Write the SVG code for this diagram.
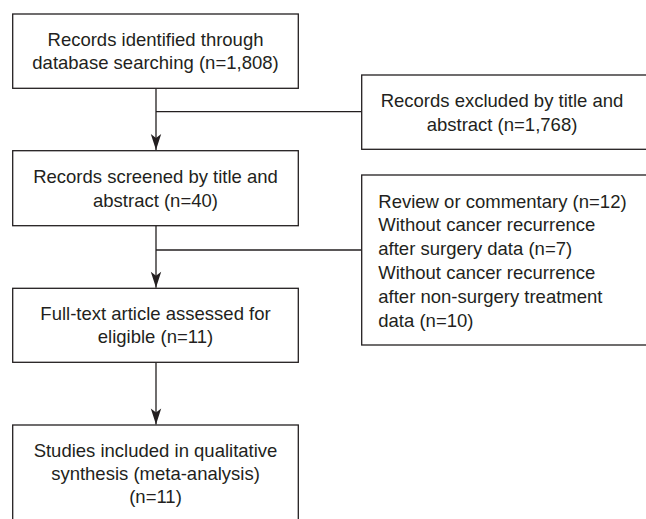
<svg xmlns="http://www.w3.org/2000/svg" width="646" height="519" viewBox="0 0 646 519">
<style>
.box{fill:#fff;stroke:#231f20;stroke-width:1.3}
.ln{fill:none;stroke:#231f20;stroke-width:1.3}
text{font-family:"Liberation Sans",Arial,sans-serif;font-size:18.5px;fill:#231f20}
.c{text-anchor:middle}
</style>
<defs>
<marker id="arr" markerUnits="userSpaceOnUse" markerWidth="20" markerHeight="20" refX="0" refY="0" orient="auto" overflow="visible">
<path d="M0,0 L-16,-5.2 L-12,0 L-16,5.2 Z" fill="#231f20"/>
</marker>
</defs>
<rect width="646" height="519" fill="#fff"/>
<g id="connectors">
<line class="ln" x1="156" y1="88.3" x2="156" y2="150" marker-end="url(#arr)"/>
<line class="ln" x1="156" y1="111.7" x2="361.7" y2="111.7"/>
<line class="ln" x1="156" y1="225.7" x2="156" y2="287.7" marker-end="url(#arr)"/>
<line class="ln" x1="156" y1="250" x2="361.7" y2="250"/>
<line class="ln" x1="156" y1="362.3" x2="156" y2="424.4" marker-end="url(#arr)"/>
</g>
<g id="n1">
<rect class="box" x="12.7" y="14" width="285.6" height="74.3"/>
<text class="c" x="155.5" y="46.3">Records identified through</text>
<text class="c" x="155.5" y="69">database searching (n=1,808)</text>
</g>
<g id="n2">
<rect class="box" x="361.7" y="75" width="290" height="74.3"/>
<text class="c" x="502" y="107">Records excluded by title and</text>
<text class="c" x="502" y="130.5">abstract (n=1,768)</text>
</g>
<g id="n3">
<rect class="box" x="12.7" y="150.7" width="285.6" height="75"/>
<text class="c" x="155.5" y="183.2">Records screened by title and</text>
<text class="c" x="155.5" y="206.5">abstract (n=40)</text>
</g>
<g id="n4">
<rect class="box" x="361.7" y="175" width="290" height="170"/>
<text x="378.3" y="207.5">Review or commentary (n=12)</text>
<text x="378.3" y="231.4">Without cancer recurrence</text>
<text x="378.3" y="255.3">after surgery data (n=7)</text>
<text x="378.3" y="279.2">Without cancer recurrence</text>
<text x="378.3" y="303.1">after non-surgery treatment</text>
<text x="378.3" y="327">data (n=10)</text>
</g>
<g id="n5">
<rect class="box" x="12.7" y="288.3" width="285.6" height="74"/>
<text class="c" x="155.5" y="319.5">Full-text article assessed for</text>
<text class="c" x="155.5" y="342.8">eligible (n=11)</text>
</g>
<g id="n6">
<rect class="box" x="12.7" y="425" width="285.6" height="110"/>
<text class="c" x="155.5" y="456.7">Studies included in qualitative</text>
<text class="c" x="155.5" y="480">synthesis (meta-analysis)</text>
<text class="c" x="155.5" y="503.3">(n=11)</text>
</g>
</svg>
